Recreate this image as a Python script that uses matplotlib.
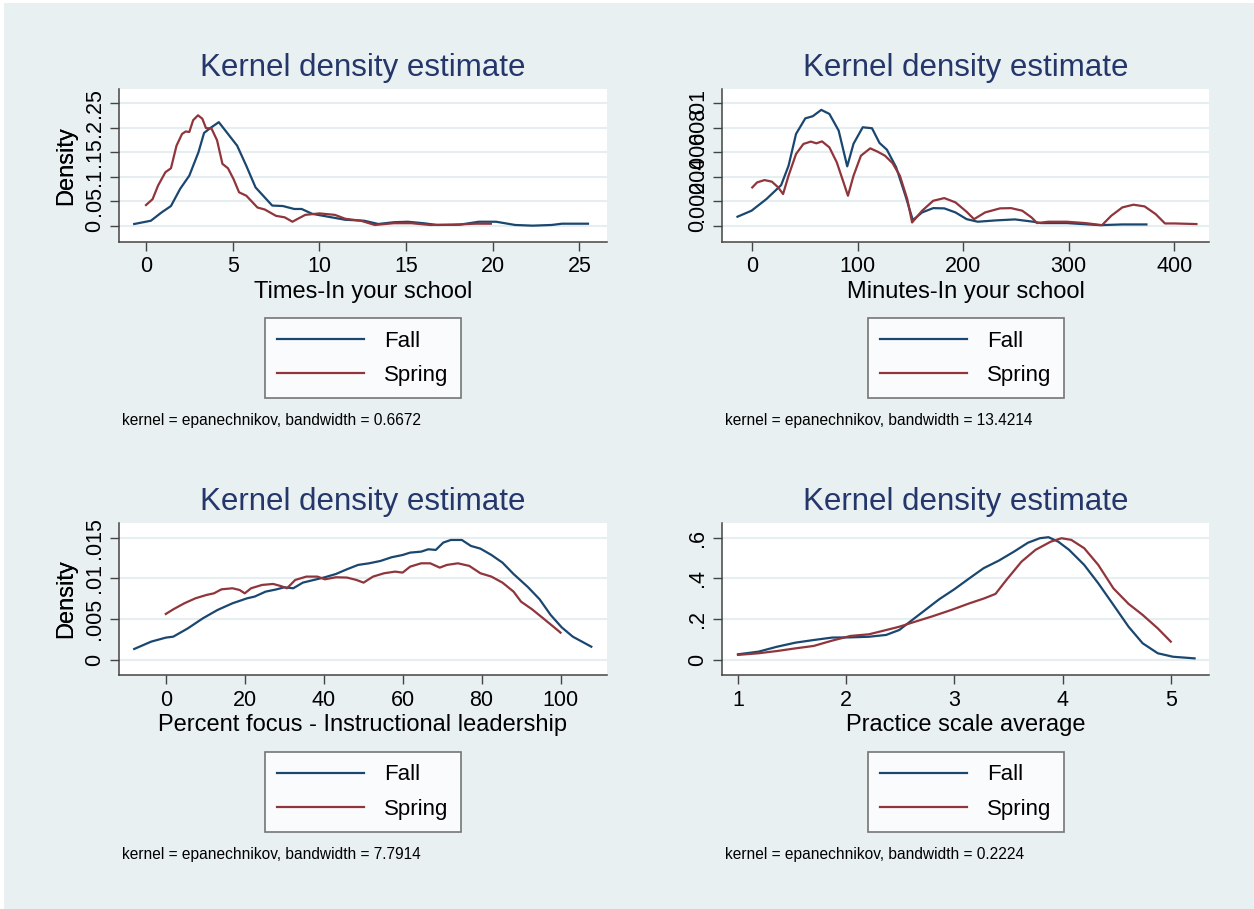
import numpy as np
import matplotlib.pyplot as plt
from matplotlib.patches import Rectangle

plt.rcParams['font.family'] = ['Liberation Sans', 'DejaVu Sans']

# ---------------- data ----------------
# Times-In your school
times_fall_x = [-0.68, 0.28, 0.9, 1.44, 1.97, 2.5, 3.03, 3.35, 3.67, 4.2, 4.73, 5.26, 5.8, 6.32, 7.28,
                7.9, 8.55, 8.98, 9.6, 10.7, 11.5, 12.6, 13.4, 14.3, 15.1, 16.0, 16.8, 18.1, 19.2, 20.2,
                21.3, 22.3, 23.4, 24.0, 25.5]
times_fall_y = [0.0034, 0.010, 0.027, 0.040, 0.075, 0.102, 0.150, 0.189, 0.198, 0.211, 0.187, 0.163,
                0.121, 0.078, 0.041, 0.040, 0.034, 0.034, 0.024, 0.017, 0.012, 0.010, 0.0034, 0.007,
                0.008, 0.005, 0.0014, 0.002, 0.008, 0.008, 0.0014, 0.0, 0.0014, 0.004, 0.004]
times_spring_x = [0, 0.38, 0.7, 1.12, 1.44, 1.76, 2.08, 2.29, 2.5, 2.72, 3.0, 3.25, 3.46, 3.78, 4.1,
                  4.41, 4.73, 5.05, 5.37, 5.79, 6.43, 6.85, 7.5, 8.0, 8.45, 8.76, 9.19, 10.0, 10.9,
                  11.5, 12.4, 13.2, 14.3, 15.3, 16.4, 17.7, 19.0, 19.9]
times_spring_y = [0.042, 0.054, 0.082, 0.109, 0.117, 0.163, 0.187, 0.192, 0.191, 0.215, 0.225, 0.218,
                  0.199, 0.198, 0.174, 0.126, 0.117, 0.095, 0.068, 0.061, 0.037, 0.033, 0.020, 0.017,
                  0.008, 0.014, 0.022, 0.025, 0.022, 0.014, 0.010, 0.0014, 0.005, 0.005, 0.0014,
                  0.002, 0.004, 0.004]

# Minutes-In your school
min_fall_x = [-14, -0.7, 13.4, 27.4, 34.4, 41.5, 50.3, 57.3, 65.4, 73.1, 81.9, 90.0, 96, 104.7, 113.5,
              120.6, 127.6, 136.4, 145.2, 152.2, 161, 171.5, 182, 192.6, 203.2, 213.7, 231, 248.9,
              266.4, 273.5, 298, 329.7, 350.8, 373.6]
min_fall_y = [0.00074, 0.00123, 0.00218, 0.00332, 0.0049, 0.0075, 0.00877, 0.00894, 0.00946, 0.00913,
              0.00777, 0.00485, 0.0067, 0.00804, 0.00796, 0.00676, 0.00621, 0.00477, 0.00245, 0.00046,
              0.00109, 0.00144, 0.00142, 0.00109, 0.00054, 0.00033, 0.00044, 0.00052, 0.00033,
              0.00022, 0.00022, 0.00005, 0.00011, 0.00011]
min_spring_x = [0, 4.6, 11.6, 18.6, 24.6, 29.2, 34.4, 41.5, 48.5, 55.5, 60.8, 66.1, 73.1, 80.1, 86.5,
                90.7, 96, 103, 111.8, 118.8, 125.8, 132.9, 139.9, 146.9, 151.5, 161, 171.5, 182,
                192.6, 203.2, 210.2, 220.7, 234.8, 245.3, 255.9, 264.7, 270, 280.5, 298, 315.7,
                331.5, 340.3, 350.8, 361.3, 371.9, 382.4, 391.2, 400, 421]
min_spring_y = [0.00313, 0.00354, 0.00373, 0.0036, 0.00313, 0.00259, 0.00409, 0.00586, 0.00668,
                0.00687, 0.00673, 0.00689, 0.0064, 0.00518, 0.00354, 0.00245, 0.00409, 0.00572,
                0.00632, 0.00605, 0.00572, 0.00512, 0.00409, 0.00218, 0.00027, 0.00123, 0.00204,
                0.00226, 0.00191, 0.00114, 0.00054, 0.00109, 0.00142, 0.00144, 0.00123, 0.00068,
                0.00022, 0.00033, 0.00033, 0.00022, 0.00005, 0.00082, 0.0015, 0.00172, 0.00158,
                0.00095, 0.00019, 0.00019, 0.00014]

# Percent focus - Instructional leadership
pct_fall_x = [-8, -3.7, 0, 1.9, 5.6, 9.4, 13.1, 16.9, 20.6, 22.5, 25.3, 28.1, 30.0, 32.3, 34.7, 37.5,
              40.3, 43.1, 45.9, 48.7, 51.5, 54.4, 57.2, 60.0, 61.9, 64.7, 66.5, 68.4, 70.3, 72.2,
              75.0, 77.3, 79.7, 82.5, 85.3, 88.1, 91.8, 94.7, 97.5, 100.3, 103.1, 107.8]
pct_fall_y = [0.00135, 0.00225, 0.00274, 0.00286, 0.00388, 0.00511, 0.00613, 0.00695, 0.00756,
              0.00777, 0.00838, 0.00866, 0.00891, 0.00879, 0.00948, 0.00981, 0.01014, 0.01054,
              0.01112, 0.01165, 0.01185, 0.01214, 0.01259, 0.01287, 0.01316, 0.01328, 0.01357,
              0.01349, 0.01439, 0.01471, 0.01471, 0.01398, 0.01365, 0.01287, 0.01193, 0.01054,
              0.00891, 0.00744, 0.00552, 0.0040, 0.00286, 0.00163]
pct_spring_x = [0, 1.9, 4.7, 7.5, 10.3, 12.2, 14.1, 16.9, 18.7, 20.0, 21.6, 24.4, 27.2, 29.1, 30.7,
                32.8, 35.6, 38.4, 40.3, 43.1, 45.9, 48.3, 50.1, 52.5, 55.3, 58.1, 60.0, 61.9, 64.7,
                67.0, 69.4, 71.2, 74.0, 76.9, 79.7, 82.5, 85.3, 88.1, 90.0, 92.8, 95.6, 99.4, 100]
pct_spring_y = [0.00564, 0.00621, 0.00695, 0.00756, 0.00797, 0.00817, 0.00866, 0.00879, 0.00858,
                0.00817, 0.00879, 0.0092, 0.00932, 0.00907, 0.00879, 0.00981, 0.01022, 0.01022,
                0.00989, 0.01014, 0.0101, 0.00981, 0.00948, 0.01022, 0.01063, 0.01083, 0.01071,
                0.01144, 0.01185, 0.01185, 0.01132, 0.01165, 0.01185, 0.01153, 0.01063, 0.01022,
                0.00948, 0.00838, 0.00715, 0.00621, 0.00511, 0.0036, 0.00335]

# Practice scale average
prac_fall_x = [1.0, 1.19, 1.36, 1.53, 1.70, 1.87, 2.04, 2.21, 2.37, 2.49, 2.59, 2.73, 2.86, 3.0, 3.14,
               3.27, 3.41, 3.55, 3.68, 3.79, 3.87, 3.96, 4.06, 4.20, 4.33, 4.47, 4.61, 4.74, 4.88,
               5.02, 5.22]
prac_fall_y = [0.028, 0.041, 0.065, 0.085, 0.098, 0.110, 0.111, 0.114, 0.123, 0.147, 0.188, 0.245,
               0.298, 0.347, 0.401, 0.450, 0.487, 0.531, 0.575, 0.597, 0.602, 0.580, 0.540, 0.466,
               0.376, 0.270, 0.163, 0.082, 0.033, 0.016, 0.008]
prac_spring_x = [1.0, 1.19, 1.36, 1.53, 1.70, 1.87, 2.04, 2.21, 2.37, 2.49, 2.62, 2.79, 2.97, 3.14,
                 3.27, 3.38, 3.48, 3.62, 3.75, 3.89, 3.99, 4.08, 4.20, 4.33, 4.47, 4.61, 4.74, 4.88,
                 5.0]
prac_spring_y = [0.025, 0.033, 0.044, 0.057, 0.069, 0.095, 0.118, 0.126, 0.147, 0.163, 0.185, 0.213,
                 0.245, 0.278, 0.301, 0.324, 0.392, 0.482, 0.540, 0.580, 0.597, 0.589, 0.548, 0.466,
                 0.351, 0.275, 0.221, 0.155, 0.090]

# ticks / labels
times_xticks = [0, 5, 10, 15, 20, 25]
times_yticks = [0, 0.05, 0.1, 0.15, 0.2, 0.25]
times_ylabels = ['0', '.05', '.1', '.15', '.2', '.25']
min_xticks = [0, 100, 200, 300, 400]
min_yticks = [0, 0.002, 0.004, 0.006, 0.008, 0.01]
min_ylabels = ['0', '.002', '.004', '.006', '.008', '.01']
pct_xticks = [0, 20, 40, 60, 80, 100]
pct_yticks = [0, 0.005, 0.01, 0.015]
pct_ylabels = ['0', '.005', '.01', '.015']
prac_xticks = [1, 2, 3, 4, 5]
prac_yticks = [0, 0.2, 0.4, 0.6]
prac_ylabels = ['0', '.2', '.4', '.6']

xlabels = ['Times-In your school', 'Minutes-In your school',
           'Percent focus - Instructional leadership', 'Practice scale average']
bandwidths = ['0.6672', '13.4214', '7.7914', '0.2224']

# ---------------- style ----------------
W, H = 1254, 909
BG = '#e8f0f2'
GRID = '#e6eef1'
BLUE = '#1a476f'
RED = '#90353b'
TITLE_C = '#25366a'

fig = plt.figure(figsize=(W / 100, H / 100), dpi=100, facecolor='white')
fig.patches.append(Rectangle((4 / W, 0), 1 - 4 / W, 1 - 3 / H, transform=fig.transFigure,
                             facecolor=BG, edgecolor='none', zorder=-10))


def px_axes(left, right, top, bottom):
    return fig.add_axes([left / W, 1 - bottom / H, (right - left) / W, (bottom - top) / H])


panels = [
    # left, right, top, bottom, xlim, ylim
    (119.3, 606.7, 89.3, 241.7, (-1.54, 26.58), (-0.0327, 0.278)),
    (722.3, 1209.3, 89.3, 241.7, (-28.4, 433.2), (-0.0013, 0.01114)),
    (119.3, 606.7, 523.0, 675.0, (-11.78, 111.7), (-0.00184, 0.01679)),
    (722.3, 1209.3, 523.0, 675.0, (0.855, 5.356), (-0.0735, 0.6716)),
]
series = [
    (times_fall_x, times_fall_y, times_spring_x, times_spring_y, times_xticks, times_yticks, times_ylabels),
    (min_fall_x, min_fall_y, min_spring_x, min_spring_y, min_xticks, min_yticks, min_ylabels),
    (pct_fall_x, pct_fall_y, pct_spring_x, pct_spring_y, pct_xticks, pct_yticks, pct_ylabels),
    (prac_fall_x, prac_fall_y, prac_spring_x, prac_spring_y, prac_xticks, prac_yticks, prac_ylabels),
]

for i, (pan, ser) in enumerate(zip(panels, series)):
    left, right, top, bottom, xlim, ylim = pan
    fx, fy, sx, sy, xt, yt, ylab = ser
    ax = px_axes(left, right, top, bottom)
    ax.set_facecolor('white')

    for v in yt:
        ax.axhline(v, color=GRID, lw=1.5, zorder=0)
    l1, = ax.plot(fx, fy, color=BLUE, lw=1.6, label='Fall')
    l2, = ax.plot(sx, sy, color=RED, lw=1.6, label='Spring')

    ax.set_xlim(*xlim)
    ax.set_ylim(*ylim)
    ax.set_xticks(xt)
    ax.set_yticks(yt)
    ax.set_yticklabels(ylab, rotation=90, va='center')
    ax.tick_params(axis='both', direction='out', length=6.5, width=1.0, color='#444444',
                   labelsize=15.5, pad=4)
    for s in ['top', 'right']:
        ax.spines[s].set_visible(False)
    for s in ['left', 'bottom']:
        ax.spines[s].set_color('#444444')
        ax.spines[s].set_linewidth(1.1)

    # x label centred ~50 px below the bottom spine
    ax.set_xlabel(xlabels[i], fontsize=17)
    ax.xaxis.set_label_coords(0.5, -50 / (bottom - top))
    ax.xaxis.label.set_va('center')
    ax.set_ylabel('Density', fontsize=17)
    ax.yaxis.set_label_coords((66 - left) / (right - left), 0.5)
    ax.yaxis.label.set_va('center')

    cx = (left + right) / 2
    fig.text(cx / W, 1 - (top - 21) / H, 'Kernel density estimate', fontsize=22.5,
             color=TITLE_C, ha='center', va='center')

    leg = ax.legend(handles=[l1, l2], loc='center',
                    bbox_to_anchor=(cx / W, 1 - (top + 269) / H), bbox_transform=fig.transFigure,
                    fontsize=16, frameon=True, fancybox=False, handlelength=3.9,
                    handletextpad=0.9, labelspacing=0.6, borderpad=0.55, borderaxespad=0)
    leg.get_frame().set_edgecolor('#555555')
    leg.get_frame().set_linewidth(1.2)
    leg.get_frame().set_facecolor('white')

    fig.text((left + 3) / W, 1 - (top + 331) / H,
             'kernel = epanechnikov, bandwidth = ' + bandwidths[i],
             fontsize=11.2, ha='left', va='center', color='black')

fig.savefig('out.png', dpi=100, facecolor=fig.get_facecolor())
